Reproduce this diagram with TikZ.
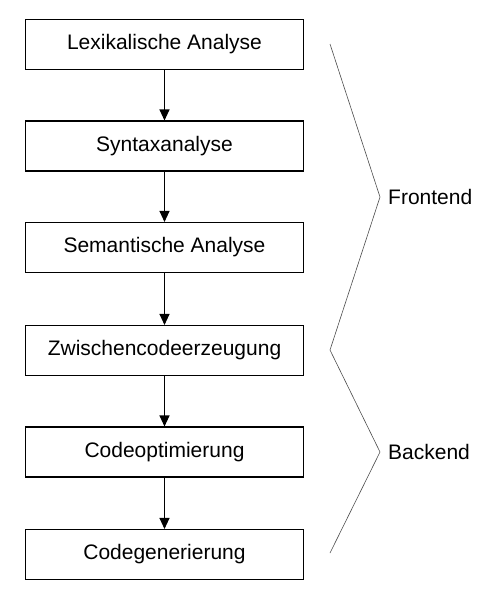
\documentclass[tikz,border=0pt]{standalone}
\usepackage{fontspec}
\setmainfont{Liberation Sans}
\usetikzlibrary{arrows.meta}
\begin{document}
\begin{tikzpicture}[x=1pt, y=-1pt, every node/.style={font=\fontsize{21}{25}\selectfont},
    phase/.style={draw, line width=1.1pt, minimum width=278pt, minimum height=50pt, inner sep=0pt},
    flow/.style={line width=1.1pt, -{Triangle[width=10pt,length=11pt]}},
    brace/.style={draw=black!70, line width=0.6pt}]
    \useasboundingbox (0,0) rectangle (500,600);
    \node (L) at (164.5, 44.5) [phase] {Lexikalische Analyse};
    \node (S) at (164.5, 146) [phase] {Syntaxanalyse};
    \node (M) at (164.5, 247.5) [phase] {Semantische Analyse};
    \node (Z) at (164.5, 350.5) [phase] {Zwischencodeerzeugung};
    \node (O) at (164.5, 452) [phase] {Codeoptimierung};
    \node (G) at (164.5, 554.5) [phase] {Codegenerierung};
    \draw[flow] (L) to (S);
    \draw[flow] (S) to (M);
    \draw[flow] (M) to (Z);
    \draw[flow] (Z) to (O);
    \draw[flow] (O) to (G);
    % Klammern
    \coordinate (b1) at (330, 44);
    \coordinate (b2) at (380, 197);
    \coordinate (b3) at (330, 350);
    \coordinate (b4) at (380, 452);
    \coordinate (b5) at (330, 553);
    \draw[brace] (b1) -- (b2) -- (b3) -- (b4) -- (b5);
    \node (F) at (388, 197) [anchor=west, inner sep=0pt] {Frontend};
    \node (B) at (388, 452) [anchor=west, inner sep=0pt] {Backend};
\end{tikzpicture}
\end{document}
